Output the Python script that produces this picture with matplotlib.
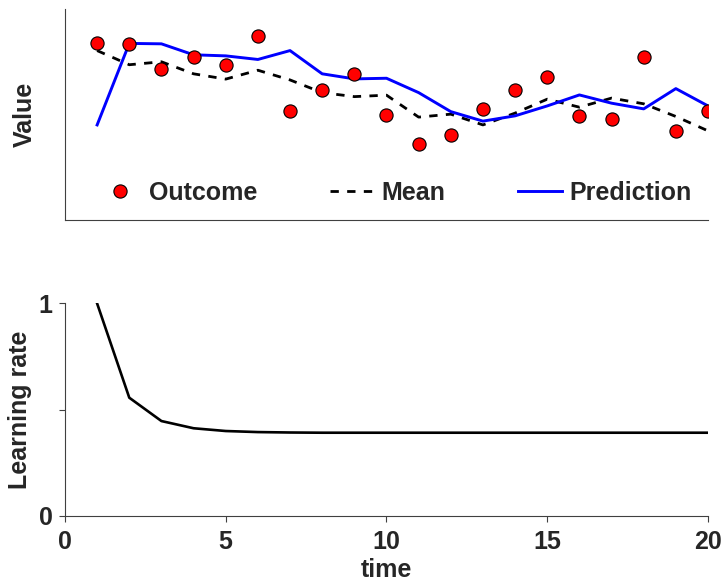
import matplotlib
matplotlib.use('Agg')
import matplotlib.pyplot as plt
import numpy as np

plt.rcParams['font.family'] = ['Liberation Sans', 'DejaVu Sans']
plt.rcParams['font.weight'] = 'bold'
plt.rcParams['font.size'] = 18

# data
t = np.arange(1, 21)
outcome = [0.840, 0.834, 0.716, 0.773, 0.735, 0.871, 0.517, 0.616, 0.689, 0.498,
           0.360, 0.400, 0.525, 0.615, 0.678, 0.490, 0.480, 0.774, 0.422, 0.517]
mean = [0.802, 0.735, 0.749, 0.692, 0.667, 0.709, 0.663, 0.603, 0.584, 0.591,
        0.487, 0.501, 0.450, 0.506, 0.572, 0.534, 0.577, 0.550, 0.490, 0.422]
prediction = [0.450, 0.836, 0.834, 0.782, 0.777, 0.760, 0.802, 0.692, 0.668, 0.671,
              0.603, 0.513, 0.468, 0.493, 0.540, 0.592, 0.553, 0.526, 0.622, 0.540]
lrate = [1.0, 0.556, 0.446, 0.412, 0.399, 0.394, 0.392, 0.391, 0.391, 0.391,
         0.391, 0.391, 0.391, 0.391, 0.391, 0.391, 0.391, 0.391, 0.391, 0.391]

txt = '#262626'
spine = '#404040'

fig = plt.figure(figsize=(7.26, 5.85), dpi=100)

# top panel
ax1 = fig.add_axes([0.0895, 0.624, 0.8857, 0.361])
ax1.plot(t, outcome, 'o', color='red', markeredgecolor='black', markeredgewidth=0.8,
         markersize=9.5, label='Outcome', zorder=3)
ax1.plot(t, mean, color='black', lw=2, linestyle=(0, (3, 3)), label='Mean')
ax1.plot(t, prediction, color='#0000ff', lw=2.1, label='Prediction')
ax1.set_xlim(0, 20)
ax1.set_ylim(0, 1)
ax1.set_xticks([])
ax1.set_yticks([])
for s in ['top', 'right']:
    ax1.spines[s].set_visible(False)
for s in ['left', 'bottom']:
    ax1.spines[s].set_color(spine)
    ax1.spines[s].set_linewidth(0.8)
ax1.set_ylabel('Value', color=txt, fontweight='bold')
ax1.yaxis.set_label_coords(-0.043, 0.5)
leg = ax1.legend(ncol=3, frameon=False, loc='center left', bbox_to_anchor=(0.051, 0.128),
                 borderpad=0, borderaxespad=0, handlelength=1.76, handletextpad=0.3,
                 columnspacing=2.9, prop={'weight': 'bold', 'size': 18})
for tx in leg.get_texts():
    tx.set_color(txt)

# bottom panel
ax2 = fig.add_axes([0.0895, 0.1185, 0.8857, 0.3627])
ax2.plot(t, lrate, color='black', lw=1.9)
ax2.set_xlim(0, 20)
ax2.set_ylim(0, 1)
ax2.set_xticks([0, 5, 10, 15, 20])
ax2.set_yticks([0, 0.5, 1])
ax2.set_yticklabels(['0', '', '1'])
for s in ['top', 'right']:
    ax2.spines[s].set_visible(False)
for s in ['left', 'bottom']:
    ax2.spines[s].set_color(spine)
    ax2.spines[s].set_linewidth(0.8)
ax2.tick_params(direction='out', length=4, width=0.8, color=spine, labelcolor=txt,
                labelsize=18)
ax2.tick_params(axis='x', pad=6)
ax2.tick_params(axis='y', pad=5)
for lab in ax2.get_xticklabels() + ax2.get_yticklabels():
    lab.set_fontweight('bold')
ax2.set_xlabel('time', color=txt, fontweight='bold', va='top')
ax2.xaxis.set_label_coords(0.5, -0.2)
ax2.set_ylabel('Learning rate', color=txt, fontweight='bold')
ax2.yaxis.set_label_coords(-0.052, 0.5)

fig.savefig('out.png', dpi=100)
